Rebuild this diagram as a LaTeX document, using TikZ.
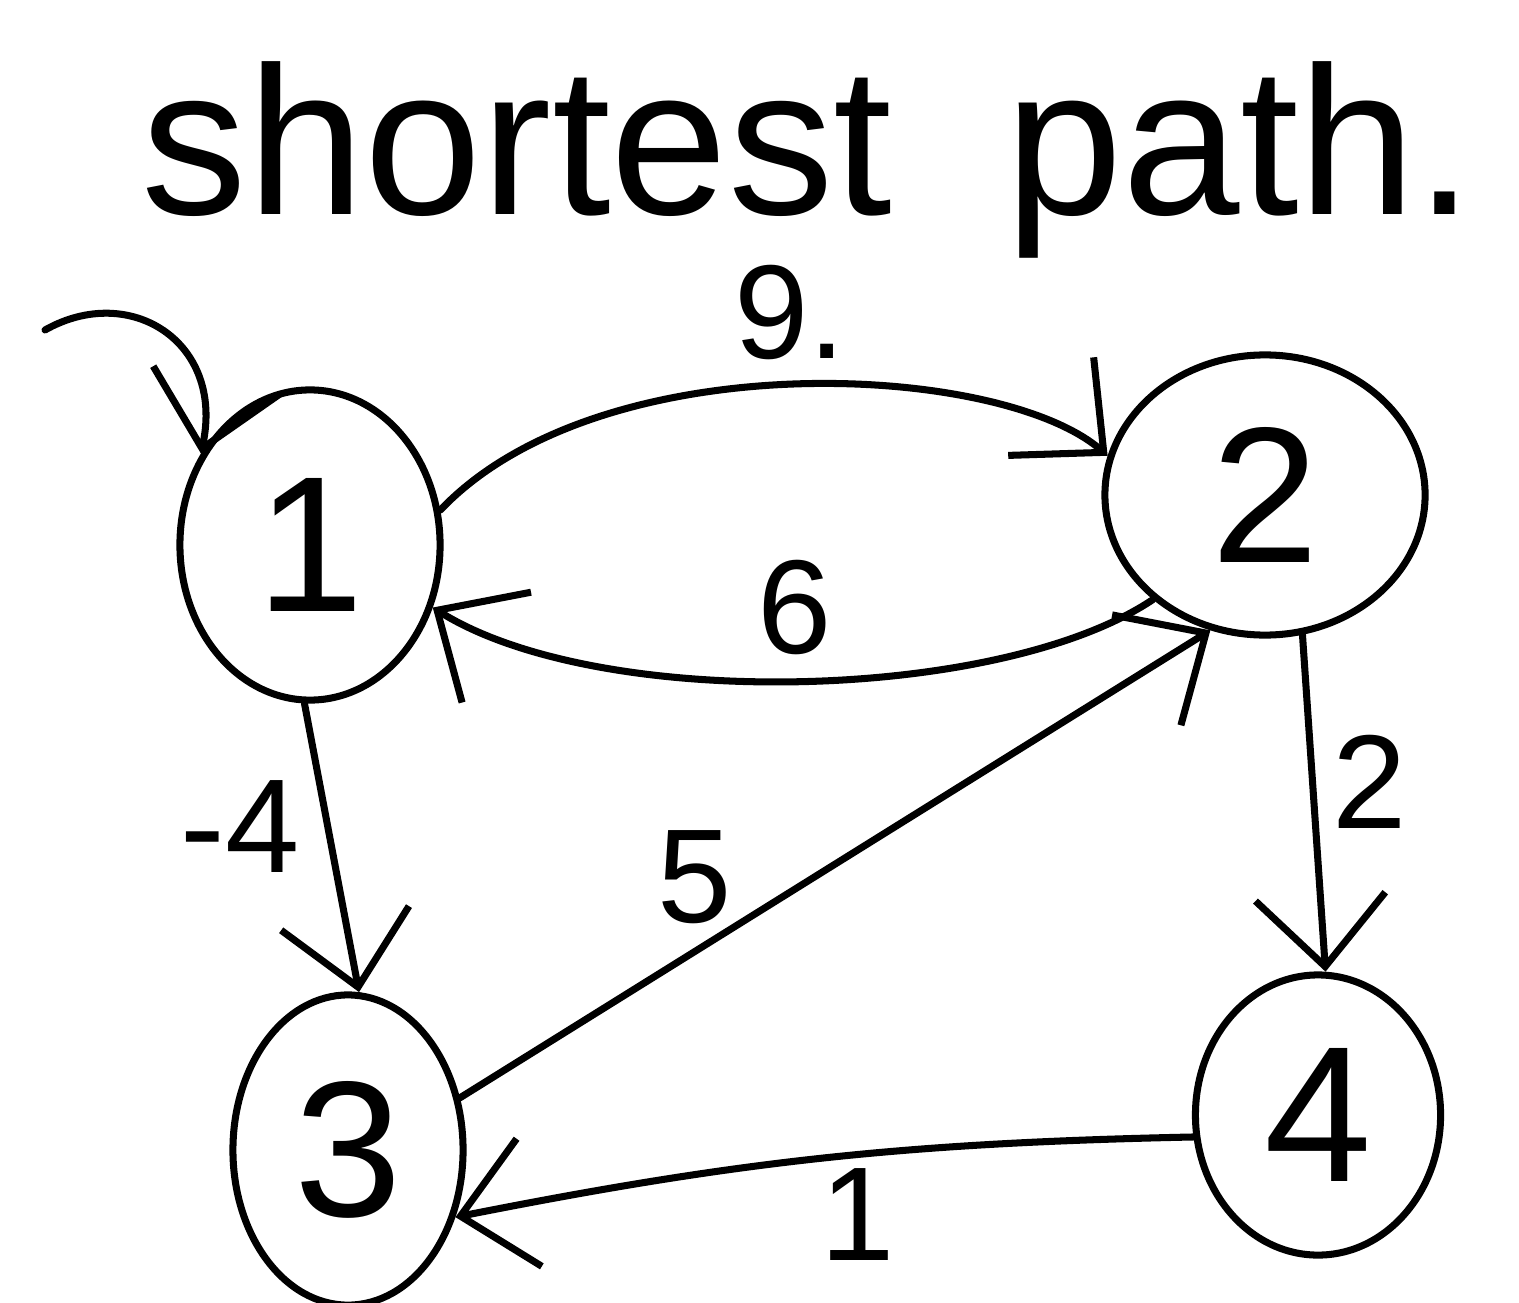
\documentclass[tikz,border=0pt]{standalone}
\usepackage{fontspec}
\setmainfont{Liberation Sans}
\usetikzlibrary{arrows.meta,shapes.geometric}
\begin{document}
\begin{tikzpicture}[x=0.01cm,y=0.01cm, line width=2pt, line cap=round, line join=round,
  vert/.style={draw, ellipse, line width=2pt, inner sep=0pt, font=\fontsize{55}{60}\selectfont},
  edge/.style={-{Straight Barb[length=7mm,width=13mm]}},
  wlabel/.style={font=\fontsize{38}{45}\selectfont},
  ttl/.style={font=\fontsize{60}{70}\selectfont, anchor=base}]
\useasboundingbox (0,0) rectangle (1519,1302);
\node[vert, minimum width=2.6cm, minimum height=3.1cm] (n1) at (310,757) {1};
\node[vert, minimum width=3.2cm, minimum height=2.8cm] (n2) at (1265,807) {2};
\node[vert, minimum width=2.3cm, minimum height=3.1cm] (n3) at (348,152) {3};
\node[vert, minimum width=2.45cm, minimum height=2.8cm] (n4) at (1318,187) {4};
\node[ttl] (t1) at (517,1087) {shortest};
\node[ttl] (t2) at (1240,1087) {path.};
\draw[edge] (n1.15) .. controls (600,960) and (1000,940) .. (n2.166);
\draw[edge] (n2.223) .. controls (1000,600) and (600,590) .. (n1.-27);
\draw[edge] (n1.-92) -- (n3.86);
\draw[edge] (n3.25) -- (n2.248);
\draw[edge] (n2.-75) -- (n4.87);
\draw[edge] (n4.190) to[bend right=5] (n3.-32);
\coordinate (s) at (45,972);
\draw[edge] (s) .. controls (130,1020) and (225,960) .. (n1.140);
\node[wlabel] (l9) at (790,990) {9.};
\node[wlabel] (l6) at (795,695) {6};
\node[wlabel] (l4) at (240,475) {-4};
\node[wlabel] (l5) at (695,425) {5};
\node[wlabel] (l2) at (1370,520) {2};
\node[wlabel, anchor=base, inner sep=0pt] (l1) at (858,42) {1};
\end{tikzpicture}
\end{document}
